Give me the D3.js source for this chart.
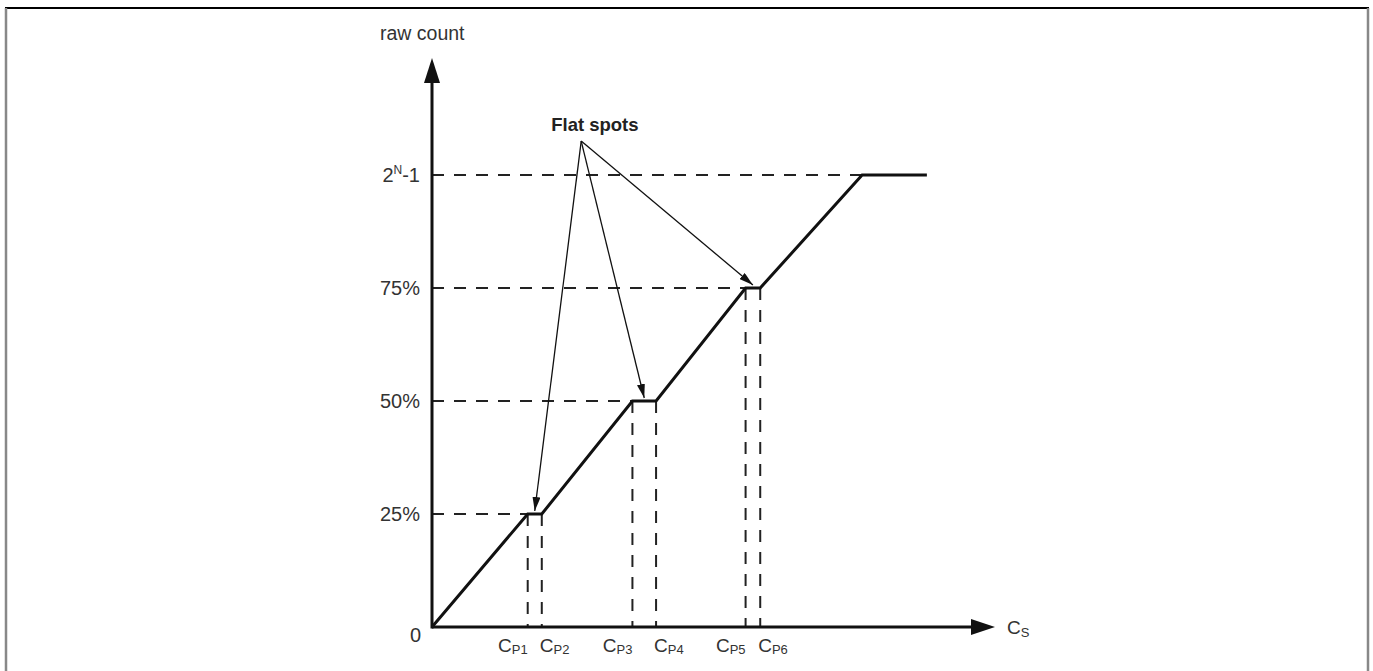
<!DOCTYPE html>
<html>
<head>
<meta charset="utf-8">
<script src="https://cdn.jsdelivr.net/npm/d3@7"></script>
<style>
  html, body { margin: 0; padding: 0; background: #fff; }
  svg { display: block; }
  text { font-family: "Liberation Sans", Arial, sans-serif; fill: #333; }
</style>
</head>
<body>
<svg id="chart" width="1373" height="671"></svg>
<script>
// ---- data ----
const levels = [0, 25, 50, 75, 100];               // raw count levels (% of full scale)
const levelLabels = ["0", "25%", "50%", "75%", "2^N-1"];
const cpNames = ["P1", "P2", "P3", "P4", "P5", "P6"];
const cpValues = [17.0, 19.5, 35.6, 39.8, 55.7, 58.3]; // Cs positions of flat-spot edges
const cpLevels = [25, 25, 50, 50, 75, 75];
const satCs = 76.4;      // Cs where count saturates
const endCs = 87.9;      // end of drawn curve
const flatSpotLabel = "Flat spots";
const annoOrigin = [26.5, 107.5]; // Cs, count of the annotation arrows' origin

// curve built from the arrays
const curve = [[0, 0]];
for (let i = 0; i < cpValues.length; i++) curve.push([cpValues[i], cpLevels[i]]);
curve.push([satCs, 100], [endCs, 100]);

const svg = d3.select("#chart");
const x = d3.scaleLinear().domain([0, 100]).range([432, 995]);
const y = d3.scaleLinear().domain([0, 100]).range([627, 175]);

// frame
svg.append("line").attr("x1", 5).attr("x2", 1369).attr("y1", 8).attr("y2", 8)
  .attr("stroke", "#000").attr("stroke-width", 2);
svg.append("line").attr("x1", 6).attr("x2", 6).attr("y1", 8).attr("y2", 671)
  .attr("stroke", "#888").attr("stroke-width", 2.5);
svg.append("line").attr("x1", 1368).attr("x2", 1368).attr("y1", 8).attr("y2", 671)
  .attr("stroke", "#888").attr("stroke-width", 2.5);

const defs = svg.append("defs");
defs.append("marker").attr("id", "ah").attr("markerUnits", "userSpaceOnUse")
  .attr("viewBox", "0 0 14 8").attr("refX", 14).attr("refY", 4)
  .attr("markerWidth", 14).attr("markerHeight", 8).attr("orient", "auto")
  .append("path").attr("d", "M0,0 L14,4 L0,8 Z").attr("fill", "#111");

const dash = "12,10";
const g = svg.append("g");

// horizontal dashed guides
levels.slice(1).forEach(lv => {
  const xe = lv === 100 ? satCs : cpValues[cpLevels.indexOf(lv)];
  g.append("line").attr("x1", x(0)).attr("x2", x(xe)).attr("y1", y(lv)).attr("y2", y(lv))
    .attr("stroke", "#222").attr("stroke-width", 2).attr("stroke-dasharray", dash);
});
// vertical dashed guides
cpValues.forEach((c, i) => {
  g.append("line").attr("x1", x(c)).attr("x2", x(c)).attr("y1", y(cpLevels[i])).attr("y2", y(0))
    .attr("stroke", "#222").attr("stroke-width", 2).attr("stroke-dasharray", dash);
});

// axes
g.append("line").attr("x1", x(0)).attr("x2", x(100) - 20).attr("y1", y(0)).attr("y2", y(0))
  .attr("stroke", "#111").attr("stroke-width", 3);
g.append("path").attr("d", `M${x(100)},${y(0)} L${x(100) - 24},${y(0) - 8} L${x(100) - 24},${y(0) + 8} Z`)
  .attr("fill", "#111");
const yTop = 58;
g.append("line").attr("x1", x(0)).attr("x2", x(0)).attr("y1", y(0) + 1.5).attr("y2", yTop + 20)
  .attr("stroke", "#111").attr("stroke-width", 3);
g.append("path").attr("d", `M${x(0)},${yTop} L${x(0) - 8},${yTop + 25} L${x(0) + 8},${yTop + 25} Z`)
  .attr("fill", "#111");

// curve
g.append("path").datum(curve)
  .attr("d", d3.line().x(d => x(d[0])).y(d => y(d[1])))
  .attr("fill", "none").attr("stroke", "#111").attr("stroke-width", 3)
  .attr("stroke-linejoin", "miter");

// annotation arrows
const ox = x(annoOrigin[0]), oy = y(annoOrigin[1]);
for (let i = 0; i < cpValues.length; i += 2) {
  const tx = x((cpValues[i] + cpValues[i + 1]) / 2), ty = y(cpLevels[i]) - 3;
  g.append("line").attr("x1", ox).attr("y1", oy).attr("x2", tx).attr("y2", ty)
    .attr("stroke", "#111").attr("stroke-width", 1.3).attr("marker-end", "url(#ah)");
}
g.append("text").attr("x", ox - 30).attr("y", oy - 10)
  .attr("font-size", 18.5).attr("font-weight", "bold").style("fill", "#222")
  .text(flatSpotLabel);

// y labels
levels.forEach((lv, i) => {
  const lab = levelLabels[i];
  if (lv === 0) {
    g.append("text").attr("x", x(0) - 11).attr("y", y(0) + 15).attr("text-anchor", "end")
      .attr("font-size", 20).text(lab);
    return;
  }
  const t = g.append("text").attr("x", x(0) - 12).attr("y", y(lv) + 7).attr("text-anchor", "end")
    .attr("font-size", 20);
  if (lab.includes("^")) {
    const m = lab.match(/^(\d+)\^(\w)(.*)$/);
    t.append("tspan").text(m[1]);
    t.append("tspan").attr("font-size", 12).attr("dy", -8).text(m[2]);
    t.append("tspan").attr("dy", 8).text(m[3]);
  } else {
    t.text(lab);
  }
});

// axis titles
g.append("text").attr("x", x(0) - 52).attr("y", 40).attr("font-size", 19.5).text("raw count");
const cs = g.append("text").attr("x", x(100) + 12).attr("y", y(0) + 7).attr("font-size", 19);
cs.append("tspan").text("C");
cs.append("tspan").attr("font-size", 13).attr("dy", 3).text("S");

// C_P labels
cpValues.forEach((c, i) => {
  const odd = i % 2 === 0;
  const t = g.append("text").attr("x", odd ? x(c) : x(c) - 2).attr("y", y(0) + 25)
    .attr("text-anchor", odd ? "end" : "start").attr("font-size", 19);
  t.append("tspan").text("C");
  t.append("tspan").attr("font-size", 13).attr("dy", 2).text(cpNames[i]);
});
</script>
</body>
</html>
